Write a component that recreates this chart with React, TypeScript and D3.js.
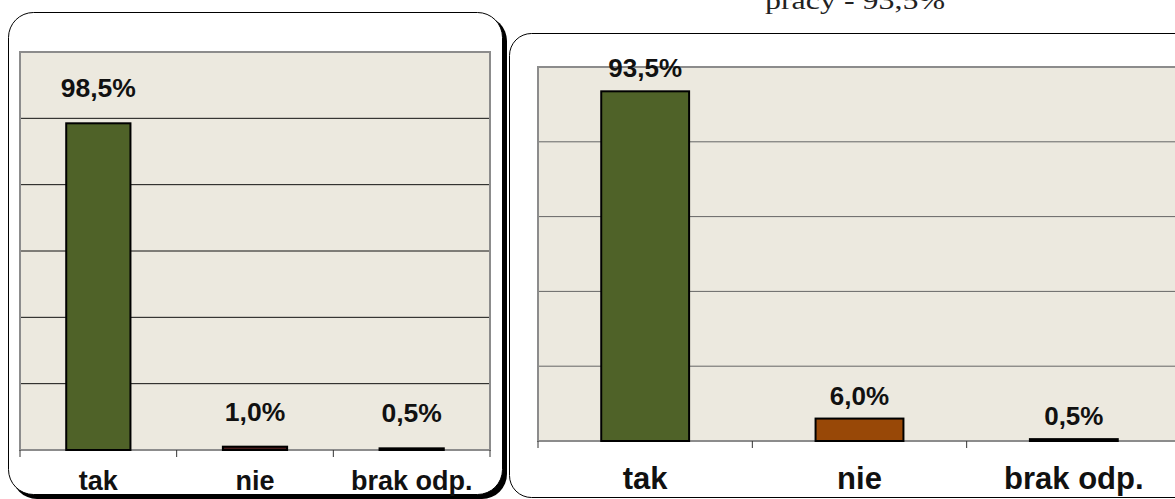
import React from "react";
import * as d3 from "d3";

// values (percent)
const categories = ["tak", "nie", "brak odp."];
const leftValues = [98.5, 1.0, 0.5];
const rightValues = [93.5, 6.0, 0.5];
const leftTicks = [0, 20, 40, 60, 80, 100, 120];
const rightTicks = [0, 20, 40, 60, 80, 100];
const leftColors = ["#4F6228", "#4A1C1C", "#111111"];
const rightColors = ["#4F6228", "#984807", "#111111"];
const titleText = "pracy - 93,5%";

const fmt = (v: number) => d3.format(".1f")(v).replace(".", ",") + "%";

type PanelProps = {
  values: number[];
  ticks: number[];
  colors: string[];
  left: number;
  right: number;
  top: number;
  bottom: number;
  gridColor: string;
  valueFont: number;
  catFont: number;
  labelGap: number;
  catY: number;
};

function Panel(p: PanelProps) {
  const x = d3.scaleBand().domain(categories).range([p.left, p.right]);
  const y = d3.scaleLinear().domain([0, d3.max(p.ticks)!]).range([p.bottom, p.top]);
  const bw = x.bandwidth() * 0.41;
  const font = "Arial, 'Liberation Sans', sans-serif";

  return (
    <g>
      <rect x={p.left} y={p.top} width={p.right - p.left} height={p.bottom - p.top} fill="#ECE9DF" />
      {p.ticks.slice(1, -1).map(t => (
        <line key={t} x1={p.left} x2={p.right} y1={y(t)} y2={y(t)} stroke={p.gridColor} strokeWidth={1} />
      ))}
      <rect x={p.left} y={p.top} width={p.right - p.left} height={p.bottom - p.top}
        fill="none" stroke="#8C8C8C" strokeWidth={2} />
      {categories.concat(["end"]).map((c, i) => {
        const tx = p.left + i * x.step();
        return <line key={c} x1={tx} x2={tx} y1={p.bottom} y2={p.bottom + 7} stroke="#333" strokeWidth={1} />;
      })}
      {categories.map((c, i) => {
        const cx = x(c)! + x.bandwidth() / 2;
        const v = p.values[i];
        return (
          <g key={c}>
            <rect x={cx - bw / 2} y={y(v)} width={bw} height={p.bottom - y(v)}
              fill={p.colors[i]} stroke="#000" strokeWidth={2} />
            <text x={cx} y={y(v) - p.labelGap} textAnchor="middle" fontFamily={font}
              fontWeight="bold" fontSize={p.valueFont} fill="#111">{fmt(v)}</text>
            <text x={cx} y={p.catY} textAnchor="middle" fontFamily={font}
              fontWeight="bold" fontSize={p.catFont} fill="#111">{c}</text>
          </g>
        );
      })}
    </g>
  );
}

export default function App() {
  return (
    <svg width={1175} height={499} style={{ position: "absolute", left: 0, top: 0, background: "#fff" }}>
      {/* title, cut at the top of the picture */}
      <text x={855} y={9} textAnchor="middle" fontFamily="'Liberation Serif', 'DejaVu Serif', serif"
        fontSize={26} textLength={180} lengthAdjust="spacingAndGlyphs" fill="#222">{titleText}</text>

      {/* left frame with shadow */}
      <rect x={12} y={16} width={495} height={483} rx={25} fill="#000" />
      <rect x={8.5} y={12.5} width={494} height={482} rx={25} fill="#fff" stroke="#000" strokeWidth={1} />

      {/* right frame */}
      <rect x={509.5} y={33.5} width={700} height={464} rx={22} fill="#fff" stroke="#000" strokeWidth={1} />

      <Panel values={leftValues} ticks={leftTicks} colors={leftColors}
        left={20} right={490} top={52} bottom={450} gridColor="#111"
        valueFont={26.5} catFont={27} labelGap={26} catY={490} />

      <Panel values={rightValues} ticks={rightTicks} colors={rightColors}
        left={538} right={1181} top={67} bottom={441} gridColor="#666"
        valueFont={26} catFont={31} labelGap={14} catY={489} />
    </svg>
  );
}
